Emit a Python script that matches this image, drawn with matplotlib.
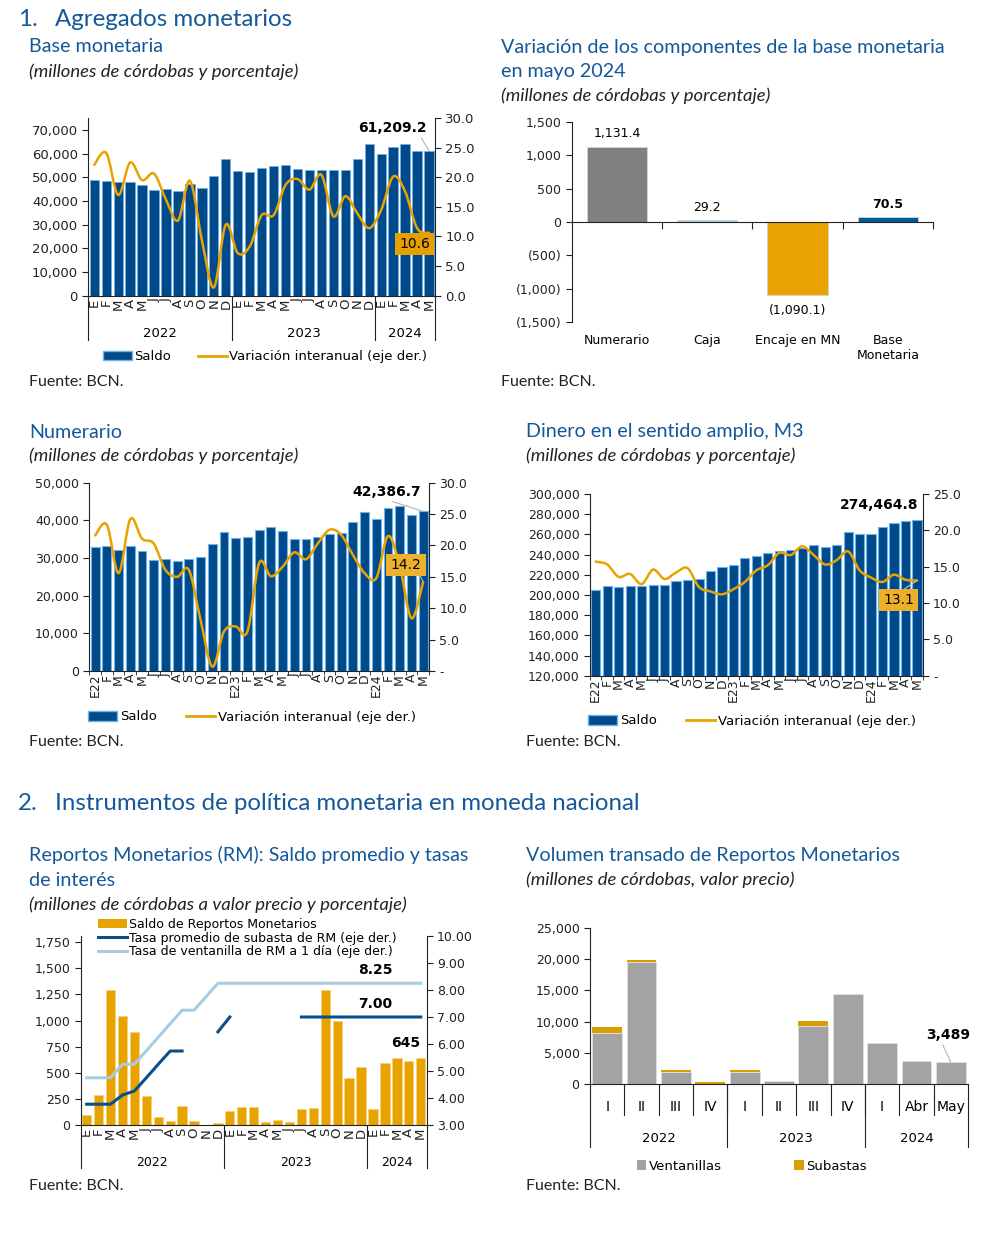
import numpy as np
import matplotlib
matplotlib.use('Agg')
import matplotlib.pyplot as plt
from matplotlib.path import Path
from matplotlib.patches import PathPatch, Patch
from matplotlib.lines import Line2D
from matplotlib.ticker import FuncFormatter

plt.rcParams['font.family'] = ['DejaVu Sans']
plt.rcParams['axes.linewidth'] = 0.8
plt.rcParams['axes.edgecolor'] = '#222222'
plt.rcParams['xtick.color'] = '#222222'
plt.rcParams['ytick.color'] = '#222222'

# ---- data ----
months = ['E', 'F', 'M', 'A', 'M', 'J', 'J', 'A', 'S', 'O', 'N', 'D'] * 2 + ['E', 'F', 'M', 'A', 'M']
months_yr = ['E22'] + months[1:12] + ['E23'] + months[13:24] + ['E24'] + months[25:]
years = ['2022', '2023', '2024']

base_saldo = [48800, 48350, 47800, 48050, 46550, 44550, 45000, 44300, 47100, 45550, 50600, 57500,
              52550, 52150, 54100, 54700, 55250, 53400, 53000, 53250, 53250, 53250, 57500, 64000,
              59900, 62700, 64000, 61150, 61209.2]
base_var = [22.1, 24.1, 17.0, 22.5, 19.5, 20.6, 16.2, 12.7, 19.4, 9.4, 1.4, 12.0,
            7.2, 8.3, 13.6, 13.6, 18.7, 19.7, 17.9, 20.4, 13.4, 16.8, 13.9, 11.4,
            14.5, 20.1, 17.6, 11.4, 10.6]

comp_cats = ['Numerario', 'Caja', 'Encaje en MN', 'Base\nMonetaria']
comp_vals = [1131.4, 29.2, -1090.1, 70.5]

num_saldo = [33000, 33300, 32200, 33100, 31850, 29450, 29800, 29300, 29800, 30200, 33700, 36900,
             35200, 35600, 37500, 38150, 37150, 34950, 35150, 35500, 36350, 36550, 39650, 42200,
             40450, 43200, 43800, 41400, 42386.7]
num_var = [21.6, 23.3, 15.6, 24.2, 21.1, 20.3, 16.1, 15.0, 16.1, 8.1, 0.7, 6.3,
           7.1, 6.3, 17.2, 15.1, 16.6, 18.9, 17.8, 20.3, 22.5, 21.7, 18.5, 15.6,
           14.8, 21.5, 16.8, 8.4, 14.2]

m3_saldo = [204900, 208500, 207900, 209200, 208500, 210200, 210200, 213800, 214800, 215800, 223700, 227300,
            229300, 236900, 238600, 241200, 243200, 244500, 246800, 249100, 247200, 249500, 262000, 260700,
            260700, 267300, 271600, 272900, 274464.8]
m3_var = [15.7, 15.3, 13.6, 14.0, 12.6, 14.6, 13.3, 14.2, 14.8, 12.2, 11.6, 11.2,
          11.9, 12.9, 14.5, 15.2, 16.9, 16.6, 17.8, 16.6, 15.3, 15.9, 17.1, 14.5,
          13.5, 12.9, 13.9, 13.2, 13.1]

rm_saldo = [96, 285, 1289, 1046, 886, 278, 74, 38, 186, 38, 0, 19,
            138, 170, 170, 29, 45, 29, 150, 166, 1289, 995, 448, 553,
            150, 592, 640, 611, 645]
nan = np.nan
rm_subasta = [3.77, 3.77, 3.77, 4.11, 4.26, 4.75, 5.25, 5.74, 5.74, nan, nan, 6.45,
              7.00, nan, nan, nan, nan, nan, 7.00, 7.00, 7.00, 7.00, 7.00, 7.00,
              7.00, 7.00, 7.00, 7.00, 7.00]
rm_ventanilla = [4.75, 4.75, 4.75, 5.25, 5.25, 5.75, 6.25, 6.75, 7.25, 7.25, 7.75, 8.25,
                 8.25, 8.25, 8.25, 8.25, 8.25, 8.25, 8.25, 8.25, 8.25, 8.25, 8.25, 8.25,
                 8.25, 8.25, 8.25, 8.25, 8.25]

vol_cats = ['I', 'II', 'III', 'IV', 'I', 'II', 'III', 'IV', 'I', 'Abr', 'May']
vol_ventanillas = [8190, 19510, 1890, 70, 1990, 540, 9270, 14390, 6630, 3610, 3489]
vol_subastas = [970, 380, 320, 250, 220, 0, 755, 0, 0, 0, 0]

# ---- style ----
BLUE = '#004A8C'
EDGE = '#6DB3E6'
ORANGE = '#E8A300'
TITLE = '#14589A'
DBLUE = '#0B4F8A'
LBLUE = '#A9CCE2'
GRAY = '#A3A3A3'
TFONT = 'Lato'

W, H = 987, 1247
fig = plt.figure(figsize=(W / 100, H / 100), dpi=100)


def axbox(l, t, r, b):
    return fig.add_axes([l / W, 1 - b / H, (r - l) / W, (b - t) / H])


def ftxt(x, y, s, **kw):
    kw.setdefault('va', 'center')
    kw.setdefault('ha', 'left')
    fig.text(x / W, 1 - y / H, s, **kw)


def fpos(x, y):
    return (x / W, 1 - y / H)


def title(x, y, s, size=14.2):
    ftxt(x, y, s, fontsize=size, color=TITLE, family=TFONT)


def subtitle(x, y, s):
    ftxt(x, y, s, fontsize=13.3, color='#222222', family=TFONT, style='italic')


def fuente(x, y):
    ftxt(x, y, 'Fuente: BCN.', fontsize=11.5, color='#222222', family=TFONT)


def smooth(ax, x, y, **kw):
    pts = np.column_stack([x, y]).astype(float)
    n = len(pts)
    verts = [pts[0]]
    codes = [Path.MOVETO]
    for i in range(n - 1):
        p0 = pts[max(i - 1, 0)]
        p1 = pts[i]
        p2 = pts[i + 1]
        p3 = pts[min(i + 2, n - 1)]
        verts += [p1 + (p2 - p0) / 6, p2 - (p3 - p1) / 6, p2]
        codes += [Path.CURVE4] * 3
    ax.add_patch(PathPatch(Path(verts, codes), fill=False, capstyle='round', **kw))


def year_row(ax, bounds, centers, labels, ysep, ylab, size=9.5):
    tr = ax.get_xaxis_transform()
    for b in bounds:
        ax.plot([b, b], [0, ysep], transform=tr, color='#222222', lw=0.8, clip_on=False)
    for c, s in zip(centers, labels):
        ax.text(c, ylab, s, transform=tr, ha='center', va='center', fontsize=size)


commas = FuncFormatter(lambda v, p: f'{v:,.0f}')


def clean(ax, twin):
    for s in ['top', 'right']:
        ax.spines[s].set_visible(False)
    for s in ['top', 'left', 'bottom']:
        twin.spines[s].set_visible(False)


x = np.arange(29)

# ================= 1. titles =================
title(18, 20, '1.', 17.3)
title(55, 20, 'Agregados monetarios', 17.3)
title(29, 47, 'Base monetaria')
subtitle(29, 72, '(millones de córdobas y porcentaje)')
title(501, 47, 'Variación de los componentes de la base monetaria')
title(501, 72, 'en mayo 2024')
subtitle(501, 96, '(millones de córdobas y porcentaje)')

# ---- Base monetaria ----
ax1 = axbox(88.3, 118, 435, 295.7)
ax1.bar(x, base_saldo, width=0.78, color=BLUE, edgecolor=EDGE, lw=0.5)
ax1.set_xlim(-0.5, 28.5)
ax1.set_ylim(0, 75000)
ax1.set_yticks(range(0, 70001, 10000))
ax1.yaxis.set_major_formatter(commas)
ax1.set_xticks(x)
ax1.set_xticklabels(months, rotation=90, fontsize=9.5)
ax1.tick_params(axis='x', length=0, pad=2)
ax1.tick_params(axis='y', labelsize=9.5, length=4)
t1 = ax1.twinx()
t1.set_ylim(0, 30)
t1.set_yticks(np.arange(0, 31, 5))
t1.yaxis.set_major_formatter(FuncFormatter(lambda v, p: f'{v:.1f}'))
t1.tick_params(axis='y', labelsize=9.5, length=4)
clean(ax1, t1)
smooth(t1, x, base_var, edgecolor=ORANGE, lw=1.8)
year_row(ax1, [-0.5, 11.5, 23.5, 28.5], [5.5, 17.5, 26], years, -0.25, -0.21)
ax1.annotate('61,209.2', xy=(28, base_saldo[-1]), xytext=fpos(392, 128), textcoords='figure fraction',
             ha='center', va='center', fontsize=10, fontweight='bold',
             arrowprops=dict(arrowstyle='-', color='#B5B5B5', lw=0.8, shrinkA=0, shrinkB=0,
                             relpos=(0.9, 0)))
t1.text(26.8, 8.7, '10.6', ha='center', va='center', fontsize=10,
        bbox=dict(boxstyle='square,pad=0.3', fc='#E3A000', ec='none'))
fig.legend(handles=[Patch(fc=BLUE, ec=EDGE), Line2D([], [], color=ORANGE, lw=2)],
           labels=['Saldo', 'Variación interanual (eje der.)'], loc='center',
           bbox_to_anchor=fpos(265, 357), ncol=2, frameon=False, fontsize=9.5,
           handlelength=2.2, handletextpad=0.2, columnspacing=2.0)
fuente(29, 382)

# ---- Variación componentes ----
ax2 = axbox(571.7, 122, 933, 322)
cols2 = ['#808080', LBLUE, ORANGE, '#005A9C']
ax2.bar(range(4), comp_vals, width=0.67, color=cols2, edgecolor='#D5D5D5', lw=0.6)
ax2.set_xlim(-0.5, 3.5)
ax2.set_ylim(-1500, 1500)
ax2.set_yticks(range(-1500, 1501, 500))
ax2.yaxis.set_major_formatter(FuncFormatter(lambda v, p: f'({abs(v):,.0f})' if v < 0 else f'{v:,.0f}'))
ax2.tick_params(axis='y', labelsize=9, length=4)
for s in ['top', 'right']:
    ax2.spines[s].set_visible(False)
ax2.spines['bottom'].set_position(('data', 0))
ax2.set_xticks([0.5, 1.5, 2.5, 3.5])
ax2.set_xticklabels([])
ax2.tick_params(axis='x', length=5, direction='out')
tr2 = ax2.get_xaxis_transform()
for i, c in enumerate(comp_cats):
    ax2.text(i, -0.06, c, transform=tr2, ha='center', va='top', fontsize=9, linespacing=1.2)
for i, v in enumerate(comp_vals):
    lab = f'({abs(v):,.1f})' if v < 0 else f'{v:,.1f}'
    off = -240 if v < 0 else 190
    ax2.text(i, v + off, lab, ha='center', va='center', fontsize=9,
             fontweight='bold' if i == 3 else 'normal')
fuente(501, 382)

# ================= Numerario =================
title(29, 432, 'Numerario')
subtitle(29, 456, '(millones de córdobas y porcentaje)')
ax3 = axbox(89.3, 482.7, 429, 671)
ax3.bar(x, num_saldo, width=0.75, color=BLUE, edgecolor=EDGE, lw=0.8)
ax3.set_xlim(-0.5, 28.5)
ax3.set_ylim(0, 50000)
ax3.set_yticks(range(0, 50001, 10000))
ax3.yaxis.set_major_formatter(commas)
ax3.set_xticks(x)
ax3.set_xticklabels(months_yr, rotation=90, fontsize=9)
ax3.set_xticks(np.arange(-0.5, 29, 1), minor=True)
ax3.tick_params(axis='x', which='major', length=0, pad=2)
ax3.tick_params(axis='x', which='minor', length=3)
ax3.tick_params(axis='y', labelsize=9, length=4)
t3 = ax3.twinx()
t3.set_ylim(0, 30)
t3.set_yticks(np.arange(0, 31, 5))
t3.yaxis.set_major_formatter(FuncFormatter(lambda v, p: '-' if v == 0 else f'{v:.1f}'))
t3.tick_params(axis='y', labelsize=9, length=4)
clean(ax3, t3)
smooth(t3, x, num_var, edgecolor=ORANGE, lw=1.8)
ax3.annotate('42,386.7', xy=(28, num_saldo[-1]), xytext=fpos(387, 491.7), textcoords='figure fraction',
             ha='center', va='center', fontsize=10, fontweight='bold',
             arrowprops=dict(arrowstyle='-', color='#B5B5B5', lw=0.8, shrinkA=0, shrinkB=0,
                             relpos=(0.45, 0)))
t3.annotate('14.2', xy=(28, num_var[-1]), xytext=fpos(406, 565), textcoords='figure fraction',
            ha='center', va='center', fontsize=10,
            bbox=dict(boxstyle='square,pad=0.3', fc='#ECB22E', ec='none'),
            arrowprops=dict(arrowstyle='-', color='#9DB8D0', lw=0.8, shrinkA=0, shrinkB=0,
                            relpos=(0.9, 0)))
fig.legend(handles=[Patch(fc=BLUE, ec=EDGE), Line2D([], [], color=ORANGE, lw=2)],
           labels=['Saldo', 'Variación interanual (eje der.)'], loc='center',
           bbox_to_anchor=fpos(252, 717), ncol=2, frameon=False, fontsize=9.5,
           handlelength=2.2, handletextpad=0.2, columnspacing=2.2)
fuente(29, 742)

# ================= M3 =================
title(526, 432, 'Dinero en el sentido amplio, M3')
subtitle(526, 456, '(millones de córdobas y porcentaje)')
ax4 = axbox(590, 494, 922.7, 675.7)
ax4.bar(x, m3_saldo, width=0.8, color=BLUE, edgecolor=EDGE, lw=0.8)
ax4.set_xlim(-0.5, 28.5)
ax4.set_ylim(120000, 300000)
ax4.set_yticks(range(120000, 300001, 20000))
ax4.yaxis.set_major_formatter(commas)
ax4.set_xticks(x)
ax4.set_xticklabels(months_yr, rotation=90, fontsize=9)
ax4.set_xticks(np.arange(-0.5, 29, 1), minor=True)
ax4.tick_params(axis='x', which='major', length=0, pad=2)
ax4.tick_params(axis='x', which='minor', length=3)
ax4.tick_params(axis='y', labelsize=9, length=4)
t4 = ax4.twinx()
t4.set_ylim(0, 25)
t4.set_yticks(np.arange(0, 26, 5))
t4.yaxis.set_major_formatter(FuncFormatter(lambda v, p: '-' if v == 0 else f'{v:.1f}'))
t4.tick_params(axis='y', labelsize=9, length=4)
clean(ax4, t4)
smooth(t4, x, m3_var, edgecolor=ORANGE, lw=1.8)
ax4.text(0.87, 1 - (505 - 494) / 181.7, '274,464.8', transform=ax4.transAxes, ha='center',
         va='center', fontsize=10, fontweight='bold')
t4.annotate('13.1', xy=(28, m3_var[-1]), xytext=fpos(898.5, 600), textcoords='figure fraction',
            ha='center', va='center', fontsize=10,
            bbox=dict(boxstyle='square,pad=0.3', fc='#EBB028', ec='none'),
            arrowprops=dict(arrowstyle='-', color='#C8C8C8', lw=0.8, shrinkA=0, shrinkB=0,
                            relpos=(0.5, 1)))
fig.legend(handles=[Patch(fc=BLUE, ec=EDGE), Line2D([], [], color=ORANGE, lw=2)],
           labels=['Saldo', 'Variación interanual (eje der.)'], loc='center',
           bbox_to_anchor=fpos(752, 721), ncol=2, frameon=False, fontsize=9.5,
           handlelength=2.2, handletextpad=0.2, columnspacing=2.2)
fuente(526, 742)

# ================= 2. titles =================
title(18, 803, '2.', 17.3)
title(55, 803, 'Instrumentos de política monetaria en moneda nacional', 17.3)
title(29, 855, 'Reportos Monetarios (RM): Saldo promedio y tasas')
title(29, 881, 'de interés')
subtitle(29, 905, '(millones de córdobas a valor precio y porcentaje)')
title(526, 855, 'Volumen transado de Reportos Monetarios')
subtitle(526, 880, '(millones de córdobas, valor precio)')

# ---- RM ----
ax5 = axbox(80.7, 936, 426.7, 1125)
ax5.bar(x, rm_saldo, width=0.78, color=ORANGE, edgecolor='#F2D27A', lw=0.5)
ax5.set_xlim(-0.5, 28.5)
ax5.set_ylim(0, 1810)
ax5.set_yticks(range(0, 1751, 250))
ax5.yaxis.set_major_formatter(commas)
ax5.set_xticks(x)
ax5.set_xticklabels(months, rotation=90, fontsize=9.5)
ax5.tick_params(axis='x', length=0, pad=2)
ax5.tick_params(axis='y', labelsize=9, length=4)
t5 = ax5.twinx()
t5.set_ylim(3, 10)
t5.set_yticks(np.arange(3, 10.1, 1))
t5.yaxis.set_major_formatter(FuncFormatter(lambda v, p: f'{v:.2f}'))
t5.tick_params(axis='y', labelsize=9, length=4)
clean(ax5, t5)
t5.plot(x, rm_ventanilla, color=LBLUE, lw=2.2)
t5.plot(x, rm_subasta, color=DBLUE, lw=2.2)
year_row(ax5, [-0.5, 11.5, 23.5, 28.5], [5.5, 17.5, 26], years, -0.23, -0.196, size=9)
t5.text(24.2, 8.25 + 0.22, '8.25', ha='center', va='bottom', fontsize=10, fontweight='bold')
t5.text(24.2, 7.00 + 0.22, '7.00', ha='center', va='bottom', fontsize=10, fontweight='bold')
ax5.text(26.7, rm_saldo[-1] + 70, '645', ha='center', va='bottom', fontsize=10, fontweight='bold')
ax5.legend(handles=[Patch(fc=ORANGE), Line2D([], [], color=DBLUE, lw=2.2),
                    Line2D([], [], color=LBLUE, lw=2.2)],
           labels=['Saldo de Reportos Monetarios', 'Tasa promedio de subasta de RM (eje der.)',
                   'Tasa de ventanilla de RM a 1 día (eje der.)'],
           loc='upper left', bbox_to_anchor=fpos(98, 918), bbox_transform=fig.transFigure,
           frameon=False, fontsize=9, handlelength=2.3, handletextpad=0.2,
           labelspacing=0.05, borderpad=0, borderaxespad=0)
fuente(29, 1186)

# ---- Volumen ----
ax6 = axbox(590, 928, 968, 1084)
xv = np.arange(len(vol_cats))
ax6.bar(xv, vol_ventanillas, width=0.87, color=GRAY, edgecolor='#E0E0E0', lw=0.6)
ax6.bar(xv, vol_subastas, bottom=vol_ventanillas, width=0.87, color='#D99E00', edgecolor='none')
ax6.set_xlim(-0.5, 10.5)
ax6.set_ylim(0, 25000)
ax6.set_yticks(range(0, 25001, 5000))
ax6.yaxis.set_major_formatter(commas)
ax6.set_xticks([])
ax6.tick_params(axis='y', labelsize=9, length=4)
for s in ['top', 'right']:
    ax6.spines[s].set_visible(False)
tr6 = ax6.get_xaxis_transform()
for b in np.arange(0.5, 10, 1):
    ax6.plot([b, b], [0, -0.2], transform=tr6, color='#222222', lw=0.8, clip_on=False)
for i, c in enumerate(vol_cats):
    ax6.text(i, -0.147, c, transform=tr6, ha='center', va='center', fontsize=10)
year_row(ax6, [-0.5, 3.5, 7.5, 10.5], [1.5, 5.5, 9], years, -0.404, -0.35)
ax6.annotate('3,489', xy=(10, vol_ventanillas[-1] + vol_subastas[-1]), xytext=fpos(948, 1035),
             textcoords='figure fraction', ha='center', va='center', fontsize=10, fontweight='bold',
             arrowprops=dict(arrowstyle='-', color='#B5B5B5', lw=0.8, shrinkA=0, shrinkB=0,
                             relpos=(0.35, 0)))
fig.legend(handles=[Patch(fc=GRAY), Patch(fc='#D99E00')], labels=['Ventanillas', 'Subastas'],
           loc='center', bbox_to_anchor=fpos(752, 1166), ncol=2, frameon=False, fontsize=9.5,
           handlelength=0.7, handleheight=0.7, handletextpad=0.2, columnspacing=5.5)
fuente(526, 1186)

fig.savefig('out.png', dpi=100, facecolor='white')
